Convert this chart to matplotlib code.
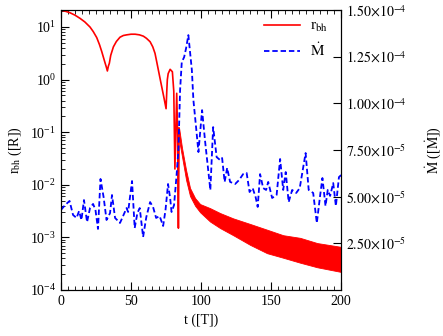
import matplotlib
matplotlib.use('Agg')
from matplotlib import pyplot as plt
from matplotlib.ticker import MultipleLocator, FuncFormatter, FixedLocator
import numpy as np

plt.rcParams['font.family'] = ['Liberation Serif', 'DejaVu Serif']
plt.rcParams['mathtext.fontset'] = 'stix'
plt.rcParams['font.size'] = 10

# r_bh, smooth part before the merger
t_r = [0, 3, 6.4, 10, 13.6, 17, 20.7, 23, 25.5, 27.5, 29.1, 31.4, 32.3, 33.1,
       33.8, 34.5, 35.5, 37.4, 39.5, 42.1, 44.5, 46.9, 50, 52.9, 56, 58.8,
       61, 63.6, 65.5, 67.1, 68.3, 69.5, 70.7, 71.9, 73.5, 75, 75.5, 75.9,
       76.5, 77.9, 79.5, 80.5, 81.3, 82.6, 83.2, 83.8, 84.3]
r_bh = [21, 20, 18.7, 16.8, 14.6, 12.5, 10.0, 8.2, 6.3, 4.6, 3.4, 2.1, 1.75,
        1.46, 1.8, 2.04, 2.9, 4.2, 5.3, 6.4, 6.9, 7.1, 7.3, 7.3, 7.1, 6.7,
        6.1, 5.25, 4.2, 3.16, 2.2, 1.52, 1.05, 0.73, 0.45, 0.28, 0.6, 1.0,
        1.3, 1.57, 1.41, 0.6, 0.02, 0.55, 0.1, 1.5e-3, 0.12]

# r_bh after the merger: oscillation envelope
t_band = [84.3, 86.4, 89.3, 92.1, 95.7, 99.3, 106.4, 113.6, 122.9, 135,
          147.1, 158.6, 170.7, 182.9, 200]
r_top = [1.2e-1, 5.0e-2, 1.9e-2, 8.7e-3, 5.6e-3, 4.3e-3, 3.6e-3, 2.9e-3,
         2.3e-3, 1.8e-3, 1.4e-3, 1.1e-3, 9.8e-4, 7.8e-4, 6.6e-4]
r_bot = [7.1e-2, 3.4e-2, 1.23e-2, 6.1e-3, 4.0e-3, 3.0e-3, 2.0e-3, 1.5e-3,
         1.1e-3, 7.2e-4, 5.0e-4, 4.1e-4, 3.3e-4, 2.7e-4, 2.2e-4]

# accretion rate (units of 1e-5)
t_m = [0, 2.9, 6.1, 8.6, 11.1, 12.9, 14.6, 16.4, 18.6, 20.7, 22.9, 24.6,
       26.4, 28.2, 30.4, 32.5, 35, 36.4, 38.6, 42.1, 44.3, 46.8, 47.9, 50.7,
       52.6, 54.5, 56.2, 58.6, 60.9, 63.6, 65.7, 67.9, 70.4, 72.9, 74.6,
       76.4, 77.9, 78.9, 80.7, 82.5, 83.8, 85, 86.2, 87.9, 89.3, 90.9, 93.4,
       94.5, 96.4, 98.1, 100.7, 102.9, 104.3, 106.6, 108.6, 111.1, 113.6,
       115, 116.8, 118.6, 120.7, 124.3, 127.1, 130, 132.5, 134.6, 136.8,
       138.9, 140.4, 142.1, 144.3, 146.4, 147.9, 150.7, 153.9, 156.4, 158.6,
       160.4, 162.5, 165, 167.9, 170.4, 174.6, 176.8, 180, 182.6, 185,
       186.6, 188.8, 190.4, 192.1, 194.3, 196.2, 198.4, 200]
mdot = [4.29, 4.55, 4.77, 4.02, 3.86, 4.23, 3.75, 4.82, 3.64, 4.39, 4.61,
        4.29, 3.27, 5.95, 4.98, 3.75, 4.12, 5.09, 3.86, 3.59, 3.96, 4.39,
        4.18, 5.84, 3.32, 4.12, 4.39, 2.84, 3.91, 4.71, 4.45, 3.86, 3.96,
        3.43, 4.29, 5.68, 4.93, 4.18, 4.55, 6.16, 7.50, 10.71, 12.21, 12.48,
        12.96, 13.66, 11.79, 10.18, 8.73, 7.39, 9.64, 7.93, 6.96, 5.36, 8.73,
        7.12, 6.96, 7.07, 5.79, 6.54, 5.79, 5.68, 5.89, 6.21, 6.27, 5.25,
        5.46, 4.98, 4.45, 6.21, 5.46, 5.36, 5.79, 4.93, 5.09, 7.02, 5.36,
        6.32, 4.71, 5.36, 5.20, 5.46, 7.34, 5.36, 5.20, 3.59, 5.09, 6.00,
        4.50, 5.36, 5.04, 5.73, 4.50, 6.05, 6.16]


def fmtSci(v, pos):
    if v <= 0:
        return ''
    e = int(np.floor(np.log10(v)))
    return r'$%.2f{\times}10^{%d}$' % (v / 10.0**e, e)


fig = plt.figure(figsize=(4.43, 3.36), dpi=100)
ax = fig.add_axes([0.1377, 0.137, 0.6325, 0.833])
ax2 = ax.twinx()

l1, = ax.plot(t_r, r_bh, color='#ff0000', lw=1.2, label=r'r$_{\rm bh}$')
ax.fill_between(t_band, r_bot, r_top, color='#ff0000', lw=0.6,
                edgecolor='#ff0000')
l2, = ax2.plot(t_m, np.array(mdot) * 1e-5, color='#0000ff', lw=1.3,
               ls=(0, (3, 1.6)), label=r'$\dot{\mathrm{M}}$')

ax.set_yscale('log')
ax.set_xlim(0, 200)
ax.set_ylim(1e-4, 21)
ax2.set_ylim(0, 1.5e-4)

ax.xaxis.set_major_locator(MultipleLocator(50))
ax.xaxis.set_minor_locator(MultipleLocator(5))
ax.tick_params(which='both', direction='in', top=True, right=False)
ax.tick_params(which='major', length=6)
ax.tick_params(which='minor', length=3)
ax2.yaxis.set_major_locator(FixedLocator([2.5e-5, 5e-5, 7.5e-5, 1e-4,
                                          1.25e-4, 1.5e-4]))
ax2.yaxis.set_major_formatter(FuncFormatter(fmtSci))
ax2.tick_params(which='both', direction='in', length=6)

ax.set_xlabel('t ([T])')
ax.set_ylabel(r'r$_{\rm bh}$ ([R])')
ax2.set_ylabel(r'$\dot{\mathrm{M}}$ ([$\dot{\mathrm{M}}$])', labelpad=12)

ax2.legend([l1, l2], [l1.get_label(), l2.get_label()], loc='upper right',
           bbox_to_anchor=(1.0, 1.015), frameon=False, handlelength=2.4,
           handletextpad=0.6, fontsize=11)

fig.savefig('out.png', dpi=100)
